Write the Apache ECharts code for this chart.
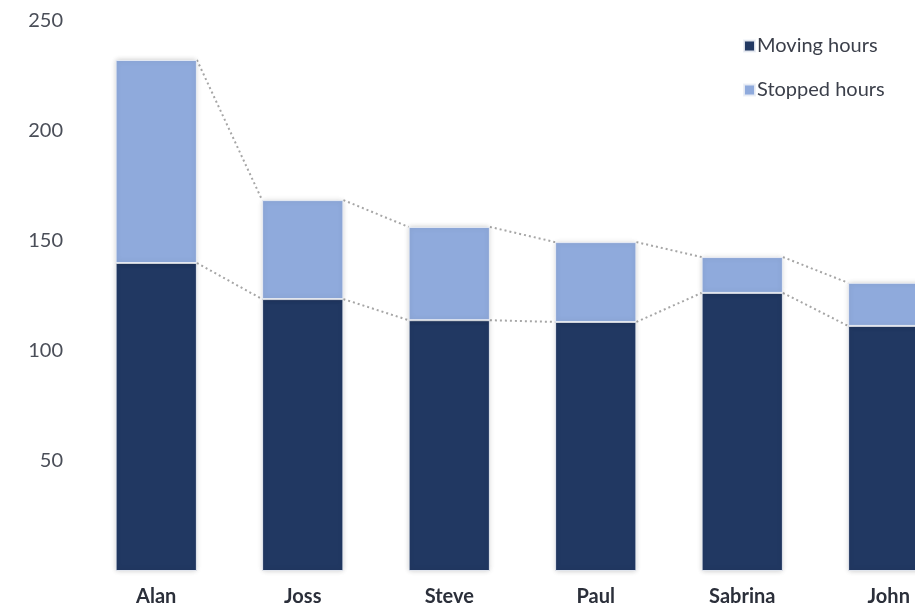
<!DOCTYPE html>
<html>
<head>
<meta charset="utf-8">
<script src="https://cdn.jsdelivr.net/npm/echarts@6/dist/echarts.min.js"></script>
<style>html,body{margin:0;padding:0;background:#fff}#c{width:915px;height:609px}</style>
</head>
<body>
<div id="c"></div>
<script>
const categories = ['Alan', 'Joss', 'Steve', 'Paul', 'Sabrina', 'John'];
const movingHours = [140, 123.6, 114, 113.2, 126.4, 111.4];
const stoppedHours = [92.3, 45, 42.4, 36.3, 16.3, 19.6];
const yTicks = [50, 100, 150, 200, 250];

const totals = movingHours.map((m, i) => m + stoppedHours[i]);
const BAR_FRAC = 0.555;

function connectorData(arr) {
  const out = [];
  for (let i = 0; i < arr.length - 1; i++) out.push([i, arr[i], arr[i + 1]]);
  return out;
}

function renderConnector(params, api) {
  const i = api.value(0);
  const p1 = api.coord([i, api.value(1)]);
  const p2 = api.coord([i + 1, api.value(2)]);
  const band = api.size([1, 0])[0];
  const hw = band * BAR_FRAC / 2;
  return {
    type: 'line',
    shape: { x1: p1[0] + hw, y1: p1[1], x2: p2[0] - hw, y2: p2[1] },
    style: { stroke: '#a6a6a6', lineWidth: 2, lineDash: [2, 3], fill: null },
    silent: true
  };
}

const barStyle = (color) => ({
  color: color,
  borderColor: 'rgba(235,238,245,0.9)',
  borderWidth: 1,
  shadowBlur: 5,
  shadowColor: 'rgba(0,0,0,0.18)'
});

const chart = echarts.init(document.getElementById('c'), null, { renderer: 'canvas' });
chart.setOption({
  animation: false,
  backgroundColor: '#ffffff',
  grid: { left: 83, width: 879, top: 21, height: 550, containLabel: false, outerBoundsMode: 'none' },
  legend: {
    orient: 'vertical',
    left: 738,
    top: 31,
    itemWidth: 11,
    itemHeight: 11,
    itemGap: 24,
    icon: 'rect',
    textStyle: { fontFamily: 'Lato', fontSize: 20, color: '#3b3f4a', padding: [0, 0, 0, -3] },
    data: ['Moving hours', 'Stopped hours']
  },
  xAxis: {
    type: 'category',
    data: categories,
    axisLine: { show: false },
    axisTick: { show: false },
    axisLabel: { fontFamily: 'Lato', fontWeight: 'bold', fontSize: 20, color: '#2b2f3a', margin: 16 }
  },
  yAxis: {
    type: 'value',
    min: 0,
    max: 250,
    interval: 50,
    axisLine: { show: false },
    axisTick: { show: false },
    splitLine: { show: false },
    axisLabel: {
      fontFamily: 'Lato', fontSize: 20, color: '#4a4e58', margin: 20,
      formatter: (v) => yTicks.includes(v) ? String(v) : ''
    }
  },
  series: [
    {
      name: 'Moving hours', type: 'bar', stack: 'h', data: movingHours,
      barWidth: (BAR_FRAC * 100) + '%',
      itemStyle: barStyle('#213862')
    },
    {
      name: 'Stopped hours', type: 'bar', stack: 'h', data: stoppedHours,
      barWidth: (BAR_FRAC * 100) + '%',
      itemStyle: barStyle('#8faadc')
    },
    {
      type: 'custom', name: 'c1', data: connectorData(movingHours),
      encode: { x: 0, y: 1 }, renderItem: renderConnector, z: 1, silent: true
    },
    {
      type: 'custom', name: 'c2', data: connectorData(totals),
      encode: { x: 0, y: 1 }, renderItem: renderConnector, z: 1, silent: true
    }
  ]
});
</script>
</body>
</html>
